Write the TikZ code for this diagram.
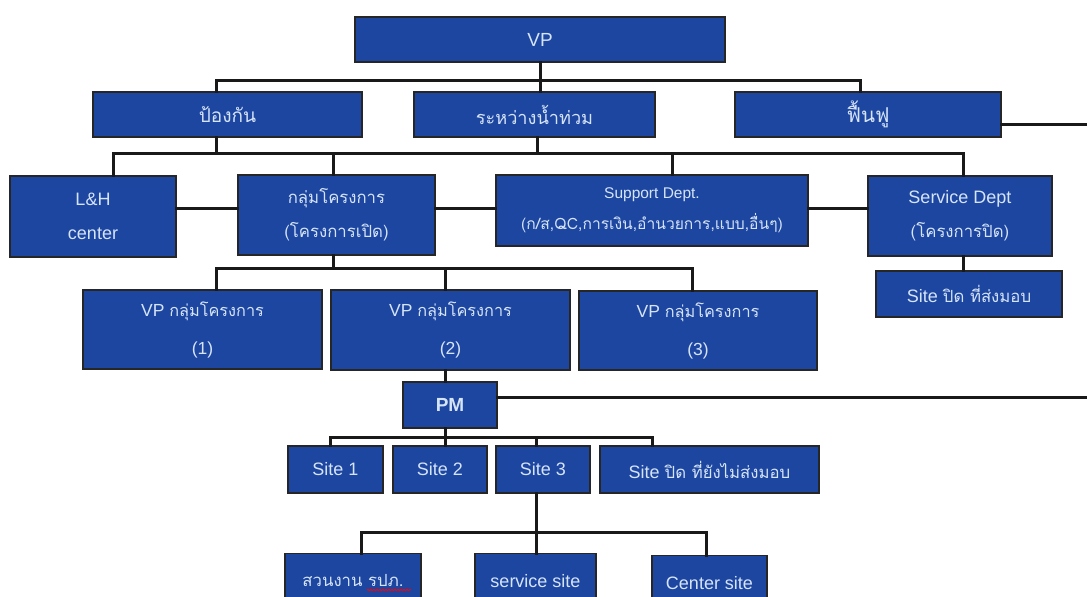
\documentclass[tikz,border=0pt]{standalone}
\usepackage{fontspec}
\setmainfont{Liberation Sans}
\newfontfamily\thai[Script=Thai,Scale=0.93]{Loma}
\usetikzlibrary{decorations.pathmorphing}
\definecolor{boxblue}{RGB}{29,70,160}
\definecolor{boxtext}{RGB}{214,228,248}
\tikzset{
  bx/.style={draw=black!85, line width=1.2pt, fill=boxblue, text=boxtext, inner sep=0pt, align=center, font=\fontsize{18}{34}\selectfont},
  toprow/.style={font=\fontsize{20.5}{24}\selectfont},
  conn/.style={draw=black!90, line width=3pt, line cap=rect},
}
\begin{document}
\begin{tikzpicture}[x=1pt,y=-1pt]
\useasboundingbox (0,0) rectangle (1087,597);
\clip (0,0) rectangle (1087,597);
% level 0
\node[bx, minimum width=370, minimum height=45, font=\fontsize{19}{24}\selectfont] (VP) at (540,39.5) {VP};
% level 1
\node[bx, toprow, minimum width=269, minimum height=45] (P1) at (227.5,114.5) {\thai ป้องกัน};
\node[bx, toprow, minimum width=241, minimum height=45, font=\fontsize{19.5}{24}\selectfont] (P2) at (534.5,114.5) {\thai ระหว่างน้ำท่วม};
\node[bx, toprow, minimum width=266, minimum height=45, font=\fontsize{22}{24}\selectfont] (P3) at (868,114.5) {\thai ฟื้นฟู};
% level 2
\node[bx, minimum width=166, minimum height=81] (LH) at (93,216.5) {L\&H\\center};
\node[bx, minimum width=197, minimum height=80] (G) at (336.5,215) {\thai กลุ่มโครงการ\\\thai (โครงการเปิด)};
\node[bx, minimum width=312, minimum height=71, font=\fontsize{15.5}{31}\selectfont] (Sup) at (652,210.5) {Support Dept.\\\thai\fontsize{16.8}{31}\selectfont (ก/ส,QC,การเงิน,อำนวยการ,แบบ,อื่นๆ)};
\node[bx, minimum width=184, minimum height=80] (Svc) at (960,216) {Service Dept\\\thai (โครงการปิด)};
\node[bx, minimum width=186, minimum height=46] (SCD) at (969,294) {Site {\thai ปิด ที่ส่งมอบ}};
% level 3
\node[bx, minimum width=239, minimum height=79, font=\fontsize{17.5}{38}\selectfont] (V1) at (202.5,329.5) {VP {\thai กลุ่มโครงการ}\\(1)};
\node[bx, minimum width=239, minimum height=80, font=\fontsize{17.5}{38}\selectfont] (V2) at (450.5,330) {VP {\thai กลุ่มโครงการ}\\(2)};
\node[bx, minimum width=238, minimum height=79, font=\fontsize{17.5}{38}\selectfont] (V3) at (698,330.5) {VP {\thai กลุ่มโครงการ}\\(3)};
% PM
\node[bx, minimum width=94, minimum height=46, font=\fontsize{19}{24}\bfseries] (PM) at (450,405) {PM};
% sites
\node[bx, minimum width=95, minimum height=47] (S1) at (335.5,469.5) {Site 1};
\node[bx, minimum width=94, minimum height=47] (S2) at (440,469.5) {Site 2};
\node[bx, minimum width=94, minimum height=47] (S3) at (543,469.5) {Site 3};
\node[bx, minimum width=219, minimum height=47] (SC2) at (709.5,469.5) {Site {\thai ปิด ที่ยังไม่ส่งมอบ}};
% bottom
\node[bx, minimum width=136, minimum height=54, anchor=north] (B1) at (353,553) {\thai สวนงาน รปภ.};
\node[bx, minimum width=121, minimum height=54, anchor=north] (B2) at (535.5,553) {service site};
\node[bx, minimum width=115, minimum height=54, anchor=north] (B3) at (709.5,555) {Center site};
\draw[red, line width=0.8pt, decorate, decoration={snake, amplitude=0.8pt, segment length=3pt}] (367,590) -- (411,590);

% junction coordinates
\coordinate (j1) at (540,80);
\coordinate (j2) at (537,153);
\coordinate (h3) at (0,208);
\coordinate (j4) at (333,268);
\coordinate (j5) at (445,437);
\coordinate (j6) at (536,532);
\coordinate (e1) at (1087,124);
\coordinate (e2) at (1087,397);

% connectors level 0-1
\draw[conn] (VP.south) -- ([xshift=5.5]P2.north);
\draw[conn] ([xshift=-11.5]P1.north) |- (j1) -| ([xshift=-8]P3.north);
\draw[conn] ([yshift=-9.5]P3.east) -- (e1);
% level 1-2
\draw[conn] ([xshift=-11.5]P1.south) -- ([xshift=-11.5]P1.south |- j2);
\draw[conn] ([xshift=2.5]P2.south) -- (j2);
\draw[conn] ([xshift=20]LH.north) |- (j2) -| ([xshift=3]Svc.north);
\draw[conn] ([xshift=-3.5]G.north) -- ([xshift=-3.5]G.north |- j2);
\draw[conn] ([xshift=20]Sup.north) -- ([xshift=20]Sup.north |- j2);
\draw[conn] (LH.east |- h3) -- (G.west |- h3);
\draw[conn] (G.east |- h3) -- (Sup.west |- h3);
\draw[conn] (Sup.east |- h3) -- (Svc.west |- h3);
\draw[conn] ([xshift=3]Svc.south) -- ([xshift=-6]SCD.north);
% level 2-3
\draw[conn] ([xshift=-3.5]G.south) -- (j4);
\draw[conn] ([xshift=13.5]V1.north) |- (j4) -| ([xshift=-6]V3.north);
\draw[conn] ([xshift=-5.5]V2.north) -- ([xshift=-5.5]V2.north |- j4);
% PM
\draw[conn] ([xshift=-5.5]V2.south) -- ([xshift=-5]PM.north);
\draw[conn] ([yshift=8]PM.east) -- (e2);
\draw[conn] ([xshift=-5]PM.south) -- (j5);
\draw[conn] ([xshift=-5.5]S1.north) |- (j5) -| ([xshift=-57.5]SC2.north);
\draw[conn] ([xshift=5]S2.north) -- ([xshift=5]S2.north |- j5);
\draw[conn] ([xshift=-7]S3.north) -- ([xshift=-7]S3.north |- j5);
% Site 3 children
\draw[conn] ([xshift=-7]S3.south) -- (j6);
\draw[conn] ([xshift=8]B1.north) |- (j6) -| ([xshift=-3.5]B3.north);
\draw[conn] (j6) -- ([xshift=0.5]B2.north);
\end{tikzpicture}
\end{document}
